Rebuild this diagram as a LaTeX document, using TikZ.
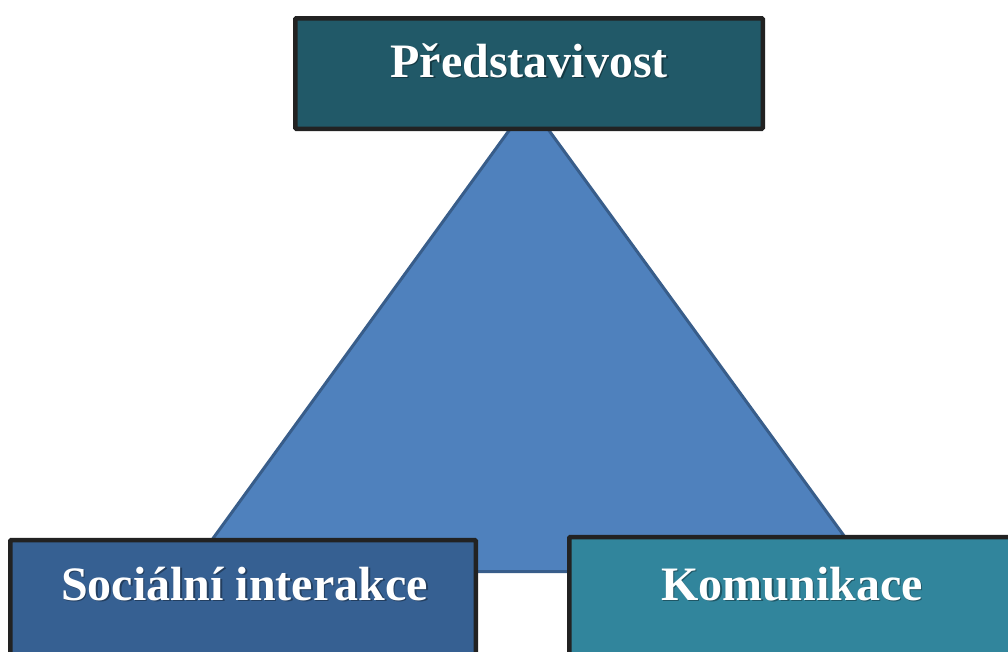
\documentclass[tikz,border=0pt]{standalone}
\usepackage{fontspec}
\setmainfont{Liberation Serif}
\definecolor{triFill}{HTML}{4F81BD}
\definecolor{triLine}{HTML}{385D8A}
\definecolor{topFill}{HTML}{215968}
\definecolor{leftFill}{HTML}{366092}
\definecolor{rightFill}{HTML}{31859C}
\definecolor{boxLine}{HTML}{222222}
\tikzset{
  box/.style={draw=boxLine, line width=4.5pt, rounded corners=1pt, inner sep=0pt},
  label/.style={font=\fontsize{48}{58}\selectfont\bfseries, text=white, anchor=base, inner sep=0pt},
  shadowtext/.style={font=\fontsize{48}{58}\selectfont\bfseries, text=black, opacity=0.35, anchor=base, inner sep=0pt},
}
\begin{document}
\begin{tikzpicture}[x=1pt,y=-1pt]
\useasboundingbox (0,0) rectangle (1008,651);
\clip (0,0) rectangle (1008,651);
% triangle
\coordinate (apex) at (529,103);
\coordinate (bl) at (189,571.5);
\coordinate (br) at (870,571.5);
\draw[fill=triFill, draw=triLine, line width=3pt, line join=miter] (apex) -- (bl) -- (br) -- cycle;
% boxes
\node[box, fill=topFill, minimum width=467.5pt, minimum height=110.5pt] (top) at (529,73.5) {};
\node[box, fill=leftFill, minimum width=465.5pt, minimum height=130pt] (left) at (243,605) {};
\node[box, fill=rightFill, minimum width=445.5pt, minimum height=130pt] (right) at (792,602) {};
% texts
\node[shadowtext] (topS) at (530.5,78.5) {Představivost};
\node[label] (topT) at (529,77) {Představivost};
\node[shadowtext] (leftS) at (246,601.5) {Sociální interakce};
\node[label] (leftT) at (244.5,600) {Sociální interakce};
\node[shadowtext] (rightS) at (793.5,601.5) {Komunikace};
\node[label] (rightT) at (792,600) {Komunikace};
\end{tikzpicture}
\end{document}
